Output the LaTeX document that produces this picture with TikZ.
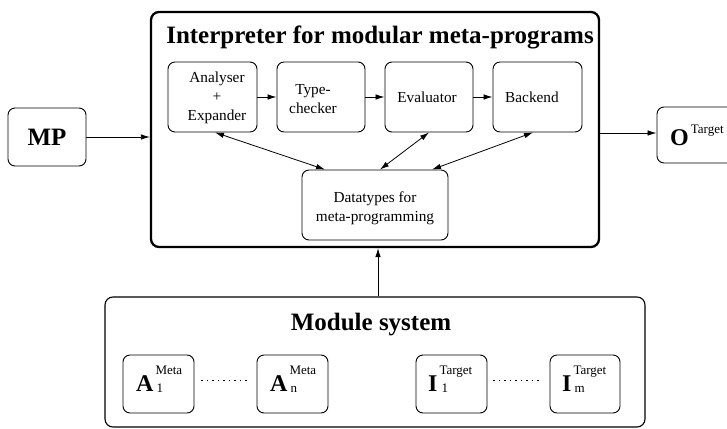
\documentclass[tikz,border=0pt]{standalone}
\usepackage{fontspec}
\setmainfont{Liberation Serif}
\usetikzlibrary{arrows.meta,calc}

% type sizes
\newcommand\titlefont{\fontsize{25}{28}\selectfont\bfseries}
\newcommand\boxfont{\fontsize{15.3}{19}\selectfont}
\newcommand\bigsym[1]{{\fontsize{24}{24}\selectfont\bfseries #1}}
\newcommand\tinytxt[1]{{\fontsize{13}{13}\selectfont #1}}
% big letter with a superscript and a subscript stacked after it
\newcommand\stacked[4]{\bigsym{#1}\kern2pt\rlap{\raisebox{17pt}{\tinytxt{#2}}}\kern#4\raisebox{-1pt}{\tinytxt{#3}}}

\tikzset{
  box/.style={draw, rounded corners=7pt, line width=0.9pt, inner sep=0pt},
  bigbox/.style={draw, rounded corners=8pt, line width=2.3pt, inner sep=0pt},
  modbox/.style={draw, rounded corners=8pt, line width=1.1pt, inner sep=0pt},
  txt/.style={inner sep=0pt, align=center, font=\boxfont},
  arr/.style={line width=0.8pt, -{Latex[length=9pt,width=5.5pt]}},
  darr/.style={line width=0.8pt, {Latex[length=9pt,width=5.5pt]}-{Latex[length=9pt,width=5.5pt]}},
  dotline/.style={line width=1pt, dash pattern=on 1.1pt off 4.4pt},
}

\begin{document}
\begin{tikzpicture}[x=1pt,y=-1pt]
\useasboundingbox (0,0) rectangle (727,428);

% interpreter frame
\node[bigbox, minimum width=448, minimum height=235] (interp) at (375,129.5) {};
\node[anchor=base, inner sep=0pt, font=\titlefont] (ititle) at (380,44) {Interpreter for modular meta-programs};

% stages of the interpreter
\node[box, minimum width=89, minimum height=70] (an) at (212.5,97) {};
\node[box, minimum width=88, minimum height=70] (tc) at (321,97) {};
\node[box, minimum width=88, minimum height=70] (ev) at (429,97) {};
\node[box, minimum width=89, minimum height=70] (bk) at (537.5,97) {};
\node[box, minimum width=146, minimum height=70] (dt) at (375,205) {};

\node[txt] (antx) at (217,98) {Analyser\\+\\Expander};
\node[txt] (tctx) at (313,99) {Type-\\checker};
\node[txt] (evtx) at (427,97) {Evaluator};
\node[txt] (bktx) at (532,97) {Backend};
\node[txt] (dttx) at (375,208) {Datatypes for\\meta-programming};

\draw[arr] (an.east) -- (tc.west);
\draw[arr] (tc.east) -- (ev.west);
\draw[arr] (ev.east) -- (bk.west);

\draw[darr] ($(an.south)+(2.5,0)$) -- ($(dt.north)+(-50,0)$);
\draw[darr] (ev.south) -- ($(dt.north)+(5,0)$);
\draw[darr] ($(bk.south)+(-4.5,0)$) -- ($(dt.north)+(57,0)$);

% input and output
\node[box, minimum width=78, minimum height=58] (mp) at (47,137) {};
\node[inner sep=0pt, font=\titlefont] (mptx) at (47,137) {MP};
\node[box, minimum width=78, minimum height=56] (out) at (696,135) {};
\node[anchor=base west, inner sep=0pt] (outtx) at (670,145) {\bigsym{O}\kern2pt\raisebox{12pt}{\tinytxt{Target}}};

\draw[arr] (mp.east) -- (mp.east -| interp.west);
\coordinate (oin) at ($(out.west)+(0,-2)$);
\draw[arr] (oin -| interp.east) -- (oin);

% module system
\node[modbox, minimum width=540, minimum height=130] (ms) at (375,362) {};
\node[anchor=base, inner sep=0pt, font=\titlefont] (mstitle) at (371,330) {Module system};

\node[box, minimum width=71, minimum height=58] (a1) at (158.5,384) {};
\node[box, minimum width=71, minimum height=58] (anm) at (292.5,384) {};
\node[box, minimum width=71, minimum height=58] (i1) at (451.5,384) {};
\node[box, minimum width=70, minimum height=58] (im) at (585,384) {};

\node[anchor=base west, inner sep=0pt] (a1tx) at (136,391) {\stacked{A}{Meta}{1}{1pt}};
\node[anchor=base west, inner sep=0pt] (antx2) at (270,391) {\stacked{A}{Meta}{n}{1pt}};
\node[anchor=base west, inner sep=0pt] (i1tx) at (428,391) {\stacked{I}{Target}{1}{2pt}};
\node[anchor=base west, inner sep=0pt] (imtx) at (562,391) {\stacked{I}{Target}{m}{1pt}};

\draw[dotline] ($(a1.east)+(7,-4)$) -- ($(anm.west)+(-9,-4)$);
\draw[dotline] ($(i1.east)+(6,-4)$) -- ($(im.west)+(-10,-4)$);

\draw[arr] ($(ms.north)+(3,0)$) -- ($(interp.south)+(3,0)$);
\end{tikzpicture}
\end{document}
